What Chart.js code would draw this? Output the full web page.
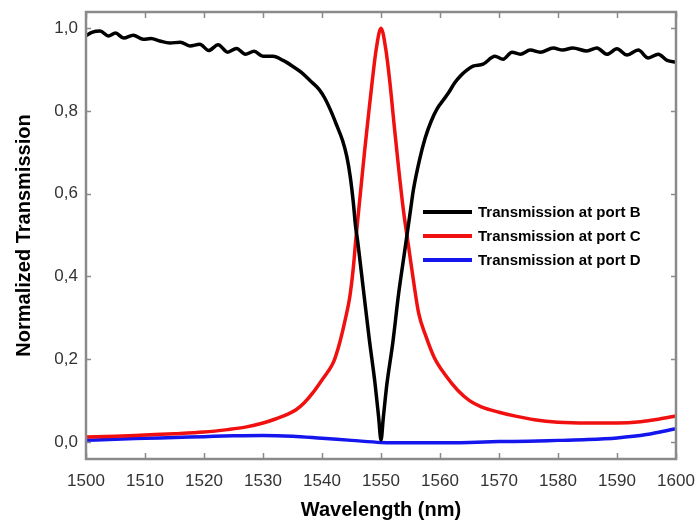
<!DOCTYPE html>
<html>
<head>
<meta charset="utf-8">
<script src="https://cdn.jsdelivr.net/npm/chart.js@4/dist/chart.umd.min.js"></script>
<style>
  html, body { margin: 0; padding: 0; background: #fff; }
  canvas { display: block; }
</style>
</head>
<body>
<canvas id="c" width="696" height="525"></canvas>
<script>
// ---- Data ----
const seriesLabels = ['Transmission at port B', 'Transmission at port C', 'Transmission at port D'];
const seriesColors = ['#000000', '#f01010', '#1515ee'];

const wavelengthB = [1500, 1501, 1502.4, 1503.8, 1505, 1506.4, 1508, 1509.7, 1511, 1512.5, 1514.2, 1516, 1517.6, 1519.3,
  1520.8, 1522.4, 1524, 1525.5, 1527, 1528.5, 1530, 1531.7, 1533.4, 1535, 1536.5, 1538, 1539.5, 1540.5, 1541.5,
  1542.5, 1543.5, 1544.2, 1544.8, 1545.3, 1545.7, 1546, 1547, 1548, 1549, 1549.6, 1550, 1550.4, 1551, 1552, 1553,
  1554, 1554.5, 1555, 1555.5, 1556.5, 1557.5, 1558.5, 1559.5, 1560.5, 1561.5, 1562.5, 1563.5, 1564.5, 1565.6,
  1567.3, 1569.3, 1570.7, 1572.2, 1573.6, 1575.3, 1577, 1579.2, 1580.8, 1582.5, 1584.9, 1586.6, 1588.3, 1590,
  1591.7, 1593.6, 1595.3, 1597, 1598.5, 1600];
const transB = [0.982, 0.990, 0.993, 0.981, 0.988, 0.976, 0.983, 0.973, 0.975, 0.969, 0.964, 0.966, 0.957, 0.961,
  0.946, 0.960, 0.942, 0.951, 0.937, 0.944, 0.932, 0.932, 0.922, 0.908, 0.893, 0.873, 0.852, 0.830, 0.800,
  0.765, 0.728, 0.690, 0.640, 0.580, 0.520, 0.490, 0.370, 0.250, 0.140, 0.060, 0.005, 0.060, 0.140, 0.240, 0.360,
  0.460, 0.510, 0.560, 0.610, 0.680, 0.735, 0.775, 0.805, 0.825, 0.845, 0.868, 0.885, 0.898, 0.908,
  0.913, 0.932, 0.925, 0.942, 0.937, 0.947, 0.942, 0.952, 0.947, 0.952, 0.945, 0.952, 0.937, 0.950,
  0.935, 0.947, 0.928, 0.937, 0.922, 0.918];

const wavelengthC = [1500, 1505, 1510, 1515, 1520, 1524, 1527, 1530, 1532, 1534, 1535.6, 1537, 1538.5, 1540, 1541,
  1542, 1543, 1544, 1544.7, 1545.3, 1545.8, 1546.5, 1547.2, 1547.8, 1548.5, 1549.2, 1550, 1550.8, 1551.5, 1552.2,
  1553, 1553.8, 1554.7, 1555.5, 1556.4, 1557.5, 1559, 1561, 1563, 1565, 1567, 1570, 1573, 1576, 1580, 1585, 1590,
  1594, 1597, 1600];
const transC = [0.012, 0.014, 0.017, 0.020, 0.024, 0.030, 0.036, 0.046, 0.055, 0.066, 0.078, 0.095, 0.120, 0.150, 0.170,
  0.195, 0.240, 0.300, 0.350, 0.420, 0.500, 0.600, 0.700, 0.780, 0.870, 0.950, 1.000, 0.950, 0.870, 0.770,
  0.660, 0.560, 0.470, 0.390, 0.310, 0.260, 0.205, 0.160, 0.125, 0.100, 0.085, 0.072, 0.062, 0.054, 0.048, 0.046, 0.046,
  0.049, 0.055, 0.063];

const wavelengthD = [1500, 1505, 1510, 1515, 1520, 1525, 1530, 1535, 1540, 1545, 1550, 1555, 1560, 1565, 1570, 1575,
  1580, 1585, 1590, 1595, 1600];
const transD = [0.004, 0.007, 0.009, 0.011, 0.013, 0.015, 0.016, 0.014, 0.009, 0.004, -0.001, -0.002, -0.002, -0.001,
  0.001, 0.002, 0.004, 0.006, 0.010, 0.018, 0.032];

const xTicks = [1500, 1510, 1520, 1530, 1540, 1550, 1560, 1570, 1580, 1590, 1600];
const xTickLabels = ['1500', '1510', '1520', '1530', '1540', '1550', '1560', '1570', '1580', '1590', '1600'];
const yTicks = [0, 0.2, 0.4, 0.6, 0.8, 1.0];
const yTickLabels = ['0,0', '0,2', '0,4', '0,6', '0,8', '1,0'];

const xTitle = 'Wavelength (nm)';
const yTitle = 'Normalized Transmission';

// ---- Build datasets ----
function pts(xs, ys) { return xs.map((x, i) => ({ x: x, y: ys[i] })); }
const datasets = [
  { label: seriesLabels[0], data: pts(wavelengthB, transB), borderColor: seriesColors[0], borderWidth: 3.5 },
  { label: seriesLabels[1], data: pts(wavelengthC, transC), borderColor: seriesColors[1], borderWidth: 3.5 },
  { label: seriesLabels[2], data: pts(wavelengthD, transD), borderColor: seriesColors[2], borderWidth: 3.5 }
].map(d => Object.assign(d, { pointRadius: 0, fill: false, cubicInterpolationMode: 'monotone' }));

// Frame, inward ticks, and in-plot legend
const framePlugin = {
  id: 'framePlugin',
  afterDatasetsDraw(chart) {
    const ctx = chart.ctx;
    const a = chart.chartArea;
    const xs = chart.scales.x, ys = chart.scales.y;
    ctx.save();
    ctx.strokeStyle = '#8a8a8a';
    ctx.lineWidth = 1.5;
    xTicks.forEach(v => {
      const px = Math.round(xs.getPixelForValue(v)) + 0.5;
      ctx.beginPath();
      ctx.moveTo(px, a.bottom); ctx.lineTo(px, a.bottom - 6);
      ctx.moveTo(px, a.top); ctx.lineTo(px, a.top + 6);
      ctx.stroke();
    });
    yTicks.forEach(v => {
      const py = Math.round(ys.getPixelForValue(v)) + 0.5;
      ctx.beginPath();
      ctx.moveTo(a.left, py); ctx.lineTo(a.left + 5, py);
      ctx.moveTo(a.right, py); ctx.lineTo(a.right - 5, py);
      ctx.stroke();
    });
    ctx.lineWidth = 2.5;
    ctx.strokeStyle = '#8a8a8a';
    ctx.strokeRect(a.left, a.top, a.right - a.left, a.bottom - a.top);

    // legend
    const lx = a.left + 337, ly = a.top + 200, gap = 24;
    chart.data.datasets.forEach((d, i) => {
      const y = ly + i * gap;
      ctx.strokeStyle = d.borderColor;
      ctx.lineWidth = 4;
      ctx.beginPath();
      ctx.moveTo(lx, y); ctx.lineTo(lx + 49, y);
      ctx.stroke();
      ctx.fillStyle = '#000';
      ctx.font = 'bold 15px "Liberation Sans", Arial, sans-serif';
      ctx.textBaseline = 'middle';
      ctx.textAlign = 'left';
      ctx.fillText(d.label, lx + 55, y + 1);
    });
    ctx.restore();
  }
};

new Chart(document.getElementById('c'), {
  type: 'line',
  data: { datasets: datasets },
  options: {
    responsive: false,
    devicePixelRatio: 1,
    animation: false,
    layout: { padding: { left: 0, top: 12, right: 20, bottom: 0 } },
    plugins: { legend: { display: false }, tooltip: { enabled: false } },
    scales: {
      x: {
        type: 'linear',
        min: 1500, max: 1600,
        afterBuildTicks: s => { s.ticks = xTicks.map(v => ({ value: v })); },
        afterFit: s => { s.height = 66; s.paddingLeft = 0; s.paddingRight = 0; },
        grid: { display: false, drawTicks: false },
        border: { display: false },
        ticks: {
          padding: 12,
          color: '#333',
          font: { family: '"Liberation Sans", Arial, sans-serif', size: 17 },
          maxRotation: 0,
          callback: (v, i) => xTickLabels[i]
        },
        title: {
          display: true, text: xTitle, color: '#000',
          font: { family: '"Liberation Sans", Arial, sans-serif', size: 20, weight: 'bold' },
          padding: { top: 0, bottom: 3 }
        }
      },
      y: {
        type: 'linear',
        min: -0.041, max: 1.039,
        afterBuildTicks: s => { s.ticks = yTicks.map(v => ({ value: v })); },
        afterFit: s => { s.width = 86; s.paddingTop = 0; s.paddingBottom = 0; },
        grid: { display: false, drawTicks: false },
        border: { display: false },
        ticks: {
          padding: 8,
          color: '#333',
          font: { family: '"Liberation Sans", Arial, sans-serif', size: 17 },
          callback: (v, i) => yTickLabels[i]
        },
        title: {
          display: true, text: yTitle, color: '#000',
          font: { family: '"Liberation Sans", Arial, sans-serif', size: 20, weight: 'bold' },
          padding: { top: 12, bottom: 0 }
        }
      }
    }
  },
  plugins: [framePlugin]
});
</script>
</body>
</html>
